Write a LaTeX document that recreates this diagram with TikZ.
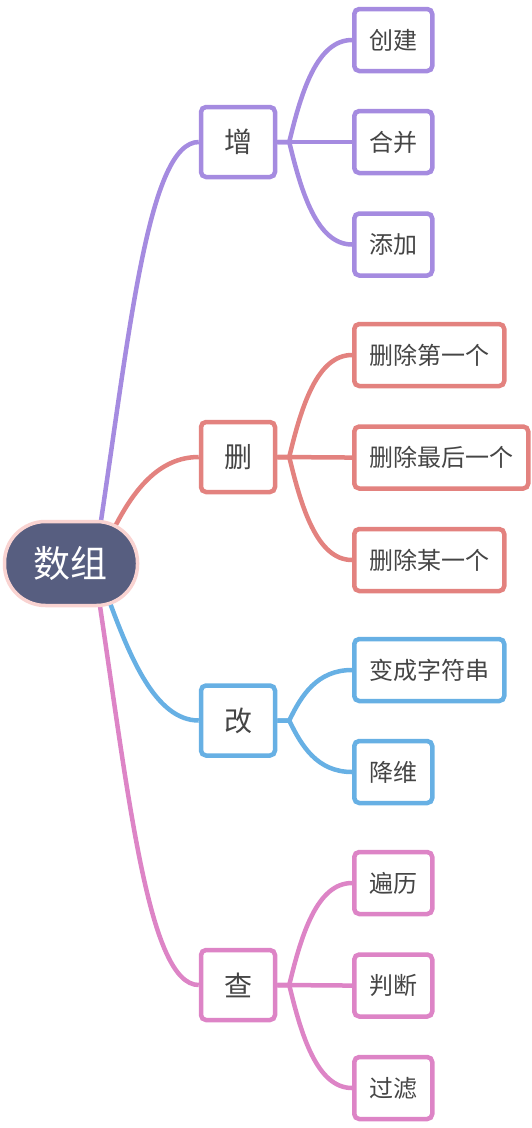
\documentclass[tikz,border=0pt]{standalone}
\usepackage{fontspec}
\setmainfont{Noto Sans CJK SC}
\usetikzlibrary{backgrounds,calc}
\definecolor{zengc}{HTML}{A58BE0}
\definecolor{shanc}{HTML}{E3827F}
\definecolor{gaic}{HTML}{67B0E4}
\definecolor{chac}{HTML}{DD84C6}
\definecolor{rootfill}{HTML}{575E80}
\definecolor{rootline}{HTML}{F9D3D1}
\definecolor{txt}{HTML}{454545}
\begin{document}
\begin{tikzpicture}[x=1pt, y=-1pt,
		root/.style={draw=rootline, line width=3.5pt, fill=rootfill, text=white,
			rounded corners=41pt, minimum width=133pt, minimum height=84pt,
			font=\fontsize{37}{37}\selectfont},
		topic/.style={draw=#1, line width=4.5pt, rounded corners=5pt, fill=white, text=txt,
			minimum width=74pt, minimum height=70pt, font=\fontsize{28}{28}\selectfont},
		leaf/.style={draw=#1, line width=4.5pt, rounded corners=5pt, fill=white, text=txt,
			anchor=west, inner xsep=15pt, minimum height=62pt,
			font=\fontsize{24}{24}\selectfont},
		link/.style={draw=#1, line width=4.5pt}]
		\useasboundingbox (0,0) rectangle (532,1128);
		% centre
		\node[root] (shuzu) at (71,563.5) {数组};
		% first level
		\node[topic=zengc] (zeng) at (238,142) {增};
		\node[topic=shanc] (shan) at (238,457) {删};
		\node[topic=gaic] (gai) at (238,720.5) {改};
		\node[topic=chac] (cha) at (238,985) {查};
		% second level
		\node[leaf=zengc] (chuangjian) at (352,40) {创建};
		\node[leaf=zengc] (hebing) at (352,142) {合并};
		\node[leaf=zengc] (tianjia) at (352,244.5) {添加};
		\node[leaf=shanc] (shandiyi) at (352,355) {删除第一个};
		\node[leaf=shanc] (shanzuihou) at (352,457.5) {删除最后一个};
		\node[leaf=shanc] (shanmouyi) at (352,560) {删除某一个};
		\node[leaf=gaic] (zifuchuan) at (352,670) {变成字符串};
		\node[leaf=gaic] (jiangwei) at (352,772) {降维};
		\node[leaf=chac] (bianli) at (352,883) {遍历};
		\node[leaf=chac] (panduan) at (352,985.5) {判断};
		\node[leaf=chac] (guolv) at (352,1088) {过滤};
		% branches from the centre
		\begin{scope}[on background layer]
			\draw[link=zengc] ($(shuzu.center)+(29,-36)$) .. controls +(30,-200) and +(-50,0) .. (zeng.west);
			\draw[link=shanc] ($(shuzu.center)+(42,-33)$) .. controls +(20,-40) and +(-40,0) .. (shan.west);
			\draw[link=gaic] ($(shuzu.center)+(37,34)$) .. controls +(22,60) and +(-43,0) .. (gai.west);
			\draw[link=chac] ($(shuzu.center)+(28,36)$) .. controls +(30,200) and +(-50,0) .. (cha.west);
		\end{scope}
		% branches to the leaves
		\foreach \c/\k in {chuangjian/-50, hebing/0, tianjia/50}
		\draw[link=zengc] (zeng.east) -- ++(12,0) .. controls +(12,\k) and +(-35,0) .. (\c.west);
		\foreach \c/\k in {shandiyi/-50, shanzuihou/0, shanmouyi/50}
		\draw[link=shanc] (shan.east) -- ++(12,0) .. controls +(12,\k) and +(-35,0) .. (\c.west);
		\foreach \c/\k in {zifuchuan/-25, jiangwei/25}
		\draw[link=gaic] (gai.east) -- ++(12,0) .. controls +(12,\k) and +(-35,0) .. (\c.west);
		\foreach \c/\k in {bianli/-50, panduan/0, guolv/50}
		\draw[link=chac] (cha.east) -- ++(12,0) .. controls +(12,\k) and +(-35,0) .. (\c.west);
	\end{tikzpicture}
\end{document}
